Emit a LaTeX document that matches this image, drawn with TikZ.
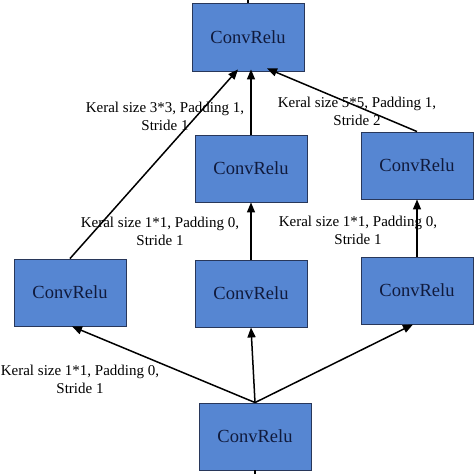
\documentclass[tikz,border=0pt]{standalone}
\usepackage{fontspec}
\setmainfont{Liberation Serif}
\usetikzlibrary{arrows.meta,calc}
\definecolor{boxfill}{RGB}{86,134,210}
\definecolor{boxtext}{RGB}{16,26,60}
\definecolor{boxline}{RGB}{40,55,90}
\tikzset{
  crbox/.style={draw=boxline,line width=0.9pt,fill=boxfill,minimum width=112pt,minimum height=67pt,inner sep=0pt,font=\fontsize{18.5}{20}\selectfont,text=boxtext},
  conn/.style={line width=1.5pt,-{Triangle[length=10pt,width=8pt]}},
  plain/.style={line width=1.5pt},
  lbl/.style={align=center,font=\fontsize{15}{18}\selectfont,inner sep=0pt}
}
\begin{document}
\begin{tikzpicture}[x=1pt,y=-1pt]
\useasboundingbox (0,0) rectangle (474,474);
\node[crbox,minimum height=68pt] (top) at (248,37) {ConvRelu};
\node[crbox] (m2) at (251,168.5) {ConvRelu};
\node[crbox] (r2) at (417,165.5) {ConvRelu};
\node[crbox] (l1) at (70,292.5) {ConvRelu};
\node[crbox] (m1) at (251,293.5) {ConvRelu};
\node[crbox] (r1) at (417,290.5) {ConvRelu};
\node[crbox] (bot) at (255,436.5) {ConvRelu};
\coordinate (topend) at (248,0);
\coordinate (botend) at (255,474);
\draw[plain] (top.north) -- (topend);
\draw[plain] (bot.south) -- (botend);
\draw[conn] (l1.north) -- ($(top.south)+(-10,-2)$);
\draw[conn] (m2.north) -- ($(top.south)+(3,-2)$);
\draw[conn] (r2.north) -- ($(top.south)+(19,-3)$);
\draw[conn] (m1.north) -- (m2.south);
\draw[conn] (r1.north) -- (r2.south);
\draw[conn] (bot.north) -- ($(l1.south)+(2,0)$);
\draw[conn] (bot.north) -- (m1.south);
\draw[conn] (bot.north) -- ($(r1.south)+(-4,0)$);
\node[lbl] (t1) at (165,116) {Keral size 3*3, Padding 1,\\Stride 1};
\node[lbl] (t2) at (357,111) {Keral size 5*5, Padding 1,\\Stride 2};
\node[lbl] (t3) at (160,231) {Keral size 1*1, Padding 0,\\Stride 1};
\node[lbl] (t4) at (358,230) {Keral size 1*1, Padding 0,\\Stride 1};
\node[lbl] (t5) at (80,379) {Keral size 1*1, Padding 0,\\Stride 1};
\end{tikzpicture}
\end{document}
